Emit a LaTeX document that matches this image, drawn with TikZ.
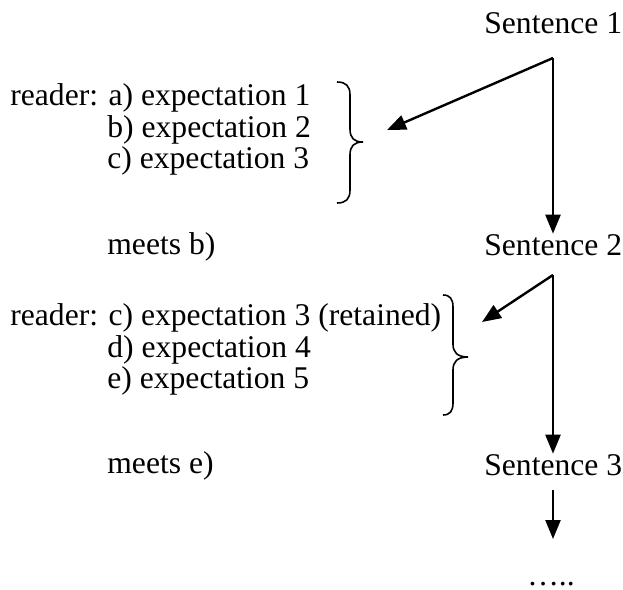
\documentclass[tikz,border=0pt]{standalone}
\usepackage{fontspec}
\setmainfont{Liberation Serif}
\usetikzlibrary{arrows.meta}
\begin{document}
\begin{tikzpicture}[x=0.5pt,y=-0.5pt,
  txt/.style={anchor=base west,inner sep=0pt,font=\fontsize{15.8}{16}\selectfont},
  flow/.style={line width=1.2pt,-{Triangle[length=9.5pt,width=7.5pt]}},
  brace/.style={line width=0.8pt}]
\useasboundingbox (0,0) rectangle (623,590);

% sentences
\node[txt] (s1) at (484,33) {Sentence 1};
\node[txt] (s2) at (484,255) {Sentence 2};
\node[txt] (s3) at (484,475) {Sentence 3};
\node[txt] (more) at (527,585) {…..};

% first set of expectations
\node[txt] (r1) at (10,105) {reader: a) expectation 1};
\node[txt] (r1b) at (107,137) {b) expectation 2};
\node[txt] (r1c) at (107,168) {c) expectation 3};
\node[txt] (m1) at (107,254) {meets b)};

% second set of expectations
\node[txt] (r2) at (10,325) {reader: c) expectation 3 (retained)};
\node[txt] (r2d) at (107,357) {d) expectation 4};
\node[txt] (r2e) at (107,388) {e) expectation 5};
\node[txt] (m2) at (107,473) {meets e)};

% braces
\draw[brace] (337,82) .. controls (346,82) and (350,86) .. (350,95)
  -- (350,129) .. controls (350,138) and (354,142) .. (363,142)
  .. controls (354,142) and (350,146) .. (350,155)
  -- (350,190) .. controls (350,199) and (346,203) .. (337,203);
\draw[brace] (443,295) .. controls (450,295) and (453,299) .. (453,307)
  -- (453,344) .. controls (453,352) and (457,357) .. (468,357)
  .. controls (457,357) and (453,362) .. (453,370)
  -- (453,403) .. controls (453,411) and (450,415) .. (443,415);

% arrows
\coordinate (c1) at (553,58);
\coordinate (e1) at (387,130);
\coordinate (c2) at (553,275);
\coordinate (e2) at (482,322);
\coordinate (c3) at (553,490);
\coordinate (e3) at (553,539);
\draw[flow] (c1) -- (e1);
\draw[flow] (c1) -- (s2.north -| c1);
\draw[flow] (c2) -- (e2);
\draw[flow] (c2) -- (s3.north -| c2);
\draw[flow] (c3) -- (e3);
\end{tikzpicture}
\end{document}
